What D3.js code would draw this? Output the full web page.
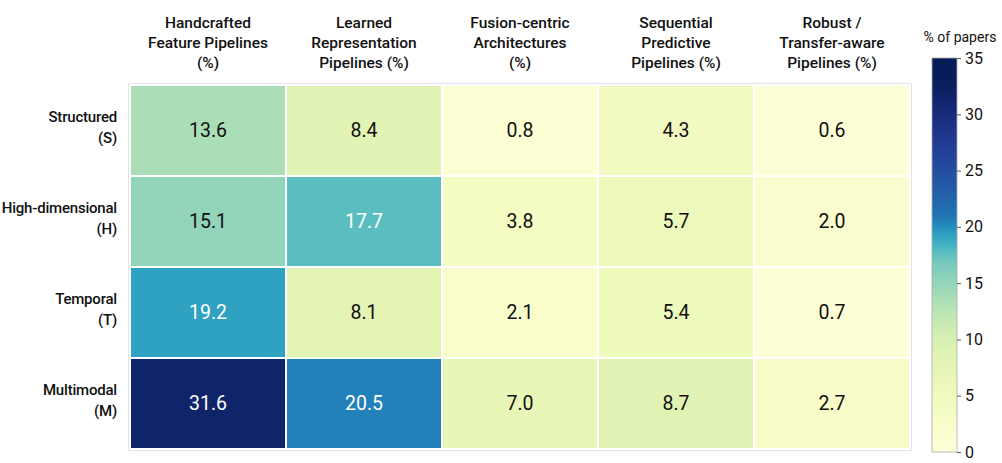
<!DOCTYPE html>
<html>
<head>
<meta charset="utf-8">
<script src="https://cdn.jsdelivr.net/npm/d3@7"></script>
<style>
  body { margin: 0; background: #fff; }
  svg { font-family: Roboto, "Noto Sans", sans-serif; }
</style>
</head>
<body>
<div id="chart"></div>
<script>
const rows = [["Structured", "(S)"], ["High-dimensional", "(H)"], ["Temporal", "(T)"], ["Multimodal", "(M)"]];
const cols = [
  ["Handcrafted", "Feature Pipelines", "(%)"],
  ["Learned", "Representation", "Pipelines (%)"],
  ["Fusion-centric", "Architectures", "(%)"],
  ["Sequential", "Predictive", "Pipelines (%)"],
  ["Robust /", "Transfer-aware", "Pipelines (%)"]
];
const values = [
  [13.6, 8.4, 0.8, 4.3, 0.6],
  [15.1, 17.7, 3.8, 5.7, 2.0],
  [19.2, 8.1, 2.1, 5.4, 0.7],
  [31.6, 20.5, 7.0, 8.7, 2.7]
];
const colorTicks = [0, 5, 10, 15, 20, 25, 30, 35];

const W = 1002, H = 463;
const m = {left: 130, top: 85, right: 910, bottom: 449};

const svg = d3.select('#chart').append('svg')
  .attr('width', W).attr('height', H);

const x = d3.scaleBand().domain(d3.range(cols.length)).range([m.left, m.right]);
const y = d3.scaleBand().domain(d3.range(rows.length)).range([m.top, m.bottom]);
// value -> position along YlGnBu (the original stretches the teal/blue part)
const tScale = d3.scaleLinear().domain([0, 10, 17, 21, 33]).range([0, 0.19, 0.4, 0.7, 1]).clamp(true);
const color = v => d3.interpolateYlGnBu(tScale(v));

// outer border
svg.append('rect')
  .attr('x', m.left - 1).attr('y', m.top - 1)
  .attr('width', m.right - m.left + 2).attr('height', m.bottom - m.top + 2)
  .attr('fill', 'none').attr('stroke', '#c8c8c8');

const cells = [];
values.forEach((r, i) => r.forEach((v, j) => cells.push({i, j, v})));

svg.selectAll('rect.cell')
  .data(cells)
  .enter().append('rect')
  .attr('class', 'cell')
  .attr('x', d => x(d.j))
  .attr('y', d => y(d.i))
  .attr('width', x.bandwidth())
  .attr('height', y.bandwidth())
  .attr('fill', d => color(d.v))
  .attr('stroke', '#fff')
  .attr('stroke-width', 2);

svg.selectAll('text.val')
  .data(cells)
  .enter().append('text')
  .attr('class', 'val')
  .attr('x', d => x(d.j) + x.bandwidth() / 2)
  .attr('y', d => y(d.i) + y.bandwidth() / 2)
  .attr('dy', '0.35em')
  .attr('text-anchor', 'middle')
  .attr('font-size', '19.5px')
  .attr('fill', d => d.v > 17 ? '#fff' : '#111')
  .text(d => d.v.toFixed(1));

// column headers
cols.forEach((lines, j) => {
  const t = svg.append('text')
    .attr('x', x(j) + x.bandwidth() / 2)
    .attr('text-anchor', 'middle')
    .attr('font-size', '15.5px')
    .attr('font-weight', 500)
    .attr('fill', '#111');
  lines.forEach((s, k) => t.append('tspan')
    .attr('x', x(j) + x.bandwidth() / 2)
    .attr('y', 28 + k * 20)
    .text(s));
});

// row labels
rows.forEach((lines, i) => {
  const cy = y(i) + y.bandwidth() / 2;
  lines.forEach((s, k) => svg.append('text')
    .attr('x', 117)
    .attr('y', cy - 9 + k * 21)
    .attr('text-anchor', 'end')
    .attr('font-size', '15px')
    .attr('font-weight', 500)
    .attr('letter-spacing', '-0.2px')
    .attr('fill', '#111')
    .text(s));
});

// colorbar
const cbX = 932, cbW = 25, cbTop = 58, cbBot = 452;
const defs = svg.append('defs');
const grad = defs.append('linearGradient').attr('id', 'cb')
  .attr('x1', 0).attr('y1', 1).attr('x2', 0).attr('y2', 0);
d3.range(0, 1.0001, 0.025).forEach(t => grad.append('stop')
  .attr('offset', t).attr('stop-color', color(t * 35)));

svg.append('rect')
  .attr('x', cbX).attr('y', cbTop)
  .attr('width', cbW).attr('height', cbBot - cbTop)
  .attr('fill', 'url(#cb)')
  .attr('stroke', '#aaa').attr('stroke-width', 0.8);

const cScale = d3.scaleLinear().domain([0, 35]).range([cbBot, cbTop]);
const cAxis = svg.append('g')
  .attr('transform', `translate(${cbX + cbW},0)`)
  .call(d3.axisRight(cScale).tickValues(colorTicks).tickSize(4).tickPadding(4));
cAxis.select('.domain').remove();
cAxis.selectAll('text').attr('font-size', '16px').attr('font-family', 'Roboto, sans-serif').attr('fill', '#111');
cAxis.selectAll('line').attr('stroke', '#555');

svg.append('text')
  .attr('x', 960).attr('y', 42)
  .attr('text-anchor', 'middle')
  .attr('font-size', '14px')
  .attr('fill', '#111')
  .text('% of papers');
</script>
</body>
</html>
